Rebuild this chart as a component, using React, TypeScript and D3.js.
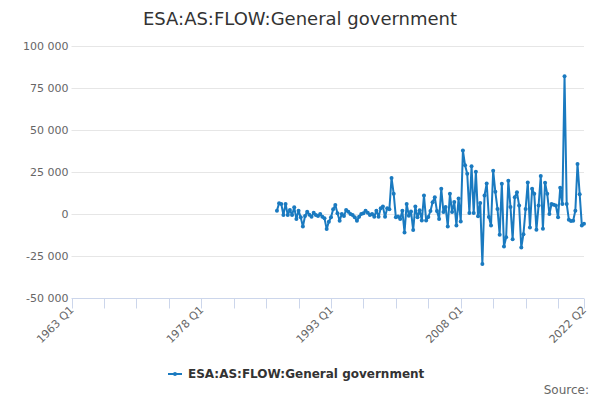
import React, { useEffect, useRef } from 'react';
import * as d3 from 'd3';

// first category of the axis and last one
const startYear = 1963;
const endYear = 2022;
const endQuarter = 2;

// series starts at 1986 Q4
const seriesStart = '1986 Q4';
const seriesName = 'ESA:AS:FLOW:General government';

// values in millions, one per quarter
const values: number[] = [
  2, 6.4, 6, -0.6, 6, -0.6, 2.4, -0.6, 4, -3, 2, -2,
  -7.5, -1.2, 1.4, -0.4, -1.6, 0.8, -0.6, -1.2, 0, -1.6, -2.6,
  -9, -4.6, -2, 2.8, 5.3, 0.4, -4, 0, -1.2, 2.4, 1.4, 0, -0.6,
  -2, -4, -1.6, 0, 0.4, 2, 0.8, -0.6, 0, -1.6, 2, -1.6, 3.4,
  4.4, -1.6, 3.4, 2.8, 21.5, 12,
  -2, -1.5, -3, 2, -11, 6, -1, 1.5, -9.5, 4.5, -2,
  2.2, -3.8, 11, -3.8, -1.8, 1.8, 7, 10, 1.8, -3, 15, 1.2, 4.2,
  -7.4, 12, 1.2, 7.2, -6.8, 9.2, -4.4,
  37.8, 29, 24, 0.6, 28.4, 0.6, 25.2, -1.4, 6.6, -29.8, 11,
  18.2, -1.8, -6.8, 25.8, 13.2, 3, -12.4, 18, -19.4, -13.8, 19.8,
  4.2, -15, 10, 13, 5, -20, -12, 3, 18.8, -8, 15, 12, -9.4, 5,
  22.6, -8.8, 18.6, 12, 0, 6, 5.5, 5, -2, 15.6, 6, 82, 6, -3.4,
  -4.2, -4, 2, 29.8, 11.8, -6.8, -5.8,
].map(v => v * 1000);

const yTicks = [-50000, -25000, 0, 25000, 50000, 75000, 100000];
const labelledCategories = ['1963 Q1', '1978 Q1', '1993 Q1', '2008 Q1', '2022 Q2'];

const categories: string[] = [];
for (let y = startYear; y <= endYear; y++) {
  for (let q = 1; q <= 4; q++) {
    if (y === endYear && q > endQuarter) break;
    categories.push(`${y} Q${q}`);
  }
}

const App: React.FC = () => {
  const svgRef = useRef<SVGSVGElement>(null);

  useEffect(() => {
    if (!svgRef.current) return;
    const svg = d3.select(svgRef.current);
    svg.selectAll('*').remove();

    const width = 600;
    const height = 400;
    const margin = { top: 46, right: 16, bottom: 102, left: 71.5 };
    const font = '"DejaVu Sans", Verdana, sans-serif';
    const color = '#1a7ac0';

    const x = d3
      .scalePoint<string>()
      .domain(categories)
      .range([margin.left, width - margin.right]);

    const y = d3
      .scaleLinear()
      .domain([-50000, 100000])
      .range([height - margin.bottom, margin.top]);

    const fmt = (v: number) => d3.format(',')(v).replace(/,/g, ' ').replace('−', '-');

    // grid
    svg
      .append('g')
      .selectAll('line')
      .data(yTicks.filter(t => t !== -50000))
      .enter()
      .append('line')
      .attr('x1', margin.left)
      .attr('x2', width - margin.right)
      .attr('y1', d => Math.round(y(d)) + 0.5)
      .attr('y2', d => Math.round(y(d)) + 0.5)
      .attr('stroke', '#e6e6e6');

    // y labels
    svg
      .append('g')
      .selectAll('text')
      .data(yTicks)
      .enter()
      .append('text')
      .attr('x', margin.left - 3)
      .attr('y', d => y(d) + 4)
      .attr('text-anchor', 'end')
      .style('font-family', font)
      .style('font-size', '11px')
      .style('fill', '#666')
      .text(d => fmt(d));

    // x axis
    const axisY = Math.round(y(-50000)) + 0.5;
    svg
      .append('line')
      .attr('x1', margin.left)
      .attr('x2', width - margin.right)
      .attr('y1', axisY)
      .attr('y2', axisY)
      .attr('stroke', '#ccd6eb');

    const tickCats = categories.filter((_, i) => i % 15 === 0);
    tickCats.push(categories[categories.length - 1]);
    svg
      .append('g')
      .selectAll('line')
      .data(tickCats)
      .enter()
      .append('line')
      .attr('x1', d => Math.round(x(d) as number) + 0.5)
      .attr('x2', d => Math.round(x(d) as number) + 0.5)
      .attr('y1', axisY)
      .attr('y2', axisY + 10)
      .attr('stroke', '#ccd6eb');

    svg
      .append('g')
      .selectAll('text')
      .data(labelledCategories)
      .enter()
      .append('text')
      .attr('transform', d => `translate(${(x(d) as number) + 3},${axisY + 12}) rotate(-45)`)
      .attr('text-anchor', 'end')
      .style('font-family', font)
      .style('font-size', '11px')
      .style('fill', '#666')
      .text(d => d);

    // series
    const startIdx = categories.indexOf(seriesStart);
    const points = values.map((v, i) => ({ cat: categories[startIdx + i], v }));

    const line = d3
      .line<{ cat: string; v: number }>()
      .x(d => x(d.cat) as number)
      .y(d => y(d.v));

    svg
      .append('path')
      .datum(points)
      .attr('d', line)
      .attr('fill', 'none')
      .attr('stroke', color)
      .attr('stroke-width', 2)
      .attr('stroke-linejoin', 'round');

    svg
      .append('g')
      .selectAll('circle')
      .data(points)
      .enter()
      .append('circle')
      .attr('cx', d => x(d.cat) as number)
      .attr('cy', d => y(d.v))
      .attr('r', 2)
      .attr('fill', color);

    // title
    svg
      .append('text')
      .attr('x', width / 2)
      .attr('y', 25)
      .attr('text-anchor', 'middle')
      .style('font-family', font)
      .style('font-size', '18px')
      .style('fill', '#333')
      .text(seriesName);

    // legend
    const legend = svg.append('g').attr('transform', 'translate(168, 374)');
    legend
      .append('line')
      .attr('x1', 0)
      .attr('x2', 14)
      .attr('y1', 0)
      .attr('y2', 0)
      .attr('stroke', color)
      .attr('stroke-width', 2);
    legend.append('circle').attr('cx', 7).attr('cy', 0).attr('r', 2).attr('fill', color);
    legend
      .append('text')
      .attr('x', 20)
      .attr('y', 4)
      .style('font-family', font)
      .style('font-size', '12px')
      .style('font-weight', 'bold')
      .style('fill', '#333')
      .text(seriesName);

    // credits
    svg
      .append('text')
      .attr('x', 589)
      .attr('y', 394)
      .attr('text-anchor', 'end')
      .style('font-family', font)
      .style('font-size', '12px')
      .style('fill', '#666')
      .text('Source:');
  }, []);

  return (
    <svg
      ref={svgRef}
      width={600}
      height={400}
      style={{ position: 'absolute', left: 0, top: 0, background: '#fff' }}
    />
  );
};

export default App;
